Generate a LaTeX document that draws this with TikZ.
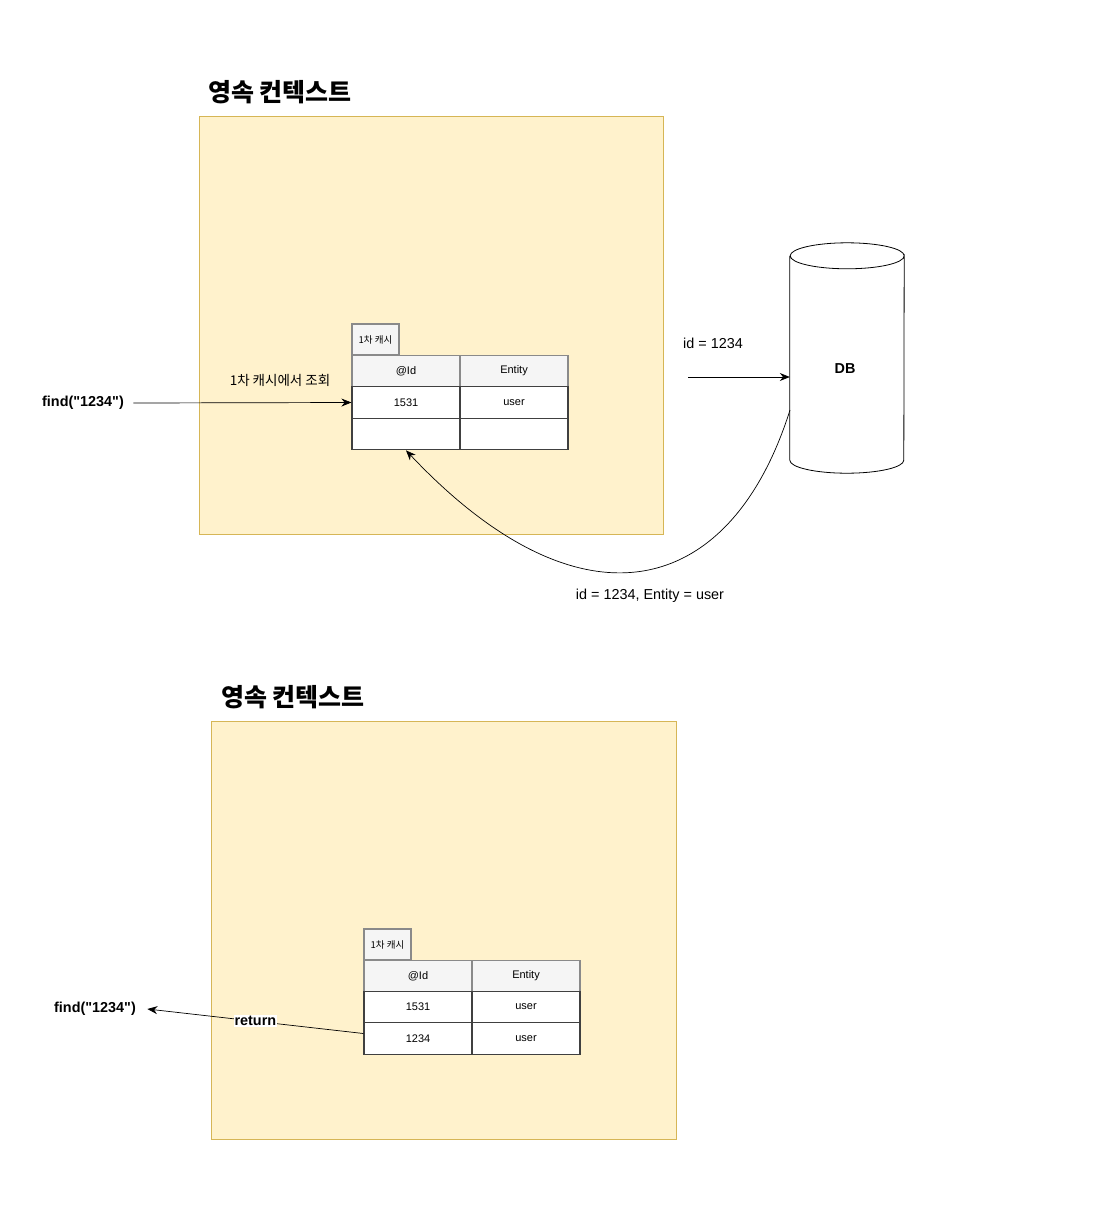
\documentclass[tikz,border=0pt]{standalone}
\usepackage{fontspec}
\setmainfont{Liberation Sans}
\newfontfamily\cjk{Noto Sans CJK KR}
\usetikzlibrary{arrows.meta}

\definecolor{ctxfill}{HTML}{FFF2CC}
\definecolor{ctxline}{HTML}{D6B656}
\definecolor{headfill}{HTML}{F5F5F5}
\definecolor{headline}{HTML}{8A8A8A}

\tikzset{
  ctx/.style={draw=ctxline, fill=ctxfill, line width=0.8pt},
  title/.style={font=\cjk\bfseries\fontsize{25}{29}\selectfont},
  tab/.style={draw=headline, fill=headfill, line width=1.2pt, minimum width=47pt, minimum height=31pt, inner sep=0pt, font=\cjk\fontsize{9.5}{11}\selectfont},
  head/.style={draw=headline, fill=headfill, line width=1.2pt, minimum width=108pt, minimum height=31.5pt, inner sep=0pt, font=\fontsize{11}{13}\selectfont},
  cell/.style={draw=black!75, fill=white, line width=1.2pt, minimum width=108pt, minimum height=31.5pt, inner sep=0pt, font=\fontsize{11}{13}\selectfont},
  lbl/.style={font=\fontsize{14.4}{17}\selectfont},
  blbl/.style={font=\bfseries\fontsize{14.4}{17}\selectfont},
  arr/.style={-{Stealth[length=10pt,width=8pt]}, line width=0.7pt},
}

\begin{document}
\begin{tikzpicture}[x=1pt, y=-1pt]
    \useasboundingbox (0, 0) rectangle (1094, 1210);

    % first lookup
    \node [title] (title1) at (280, 92) {영속 컨텍스트};
    \draw [ctx] (199, 116) rectangle (663, 534);

    \node [tab] (tab1) at (375.5, 339.5) {1차 캐시};
    \node [head] (hid1) at (406, 371) {@Id};
    \node [head] (hent1) at (514, 371) {Entity};
    \node [cell] (ida1) at (406, 402.5) {1531};
    \node [cell] (enta1) at (514, 402.5) {user};
    \node [cell] (idb1) at (406, 434) {};
    \node [cell] (entb1) at (514, 434) {};

    \node [blbl] (find1) at (83, 403) {find(\textquotedbl 1234\textquotedbl)};
    \node [lbl, font=\cjk\fontsize{13.5}{15}\selectfont] (look) at (280, 380) {1차 캐시에서 조회};
    \draw [arr] ([xshift=6pt]find1.east) -- (ida1.west);

    % db
    \node (db) at (847, 358) [minimum width=114pt, minimum height=230pt] {};
    \draw [line width=0.8pt, fill=white] ([yshift=-13pt]db.north west)
        -- ([yshift=13pt]db.south west)
        arc [start angle=180, end angle=0, x radius=57, y radius=13]
        -- ([yshift=-13pt]db.north east)
        arc [start angle=0, end angle=180, x radius=57, y radius=13]
        arc [start angle=180, end angle=360, x radius=57, y radius=13];
    \node [blbl] (dbtxt) at (845, 369) {DB};

    \node [lbl] (q) at (713, 343) {id = 1234};
    \coordinate (qstart) at (688, 377);
    \draw [arr] (qstart) -- (qstart -| db.west);

    \coordinate (back) at (790, 410);
    \draw [arr] (back) .. controls (730, 600) and (580, 635) .. (idb1.south);
    \node [lbl] (res) at (650, 596) {id = 1234, Entity = user};

    % second lookup
    \node [title] (title2) at (293, 697) {영속 컨텍스트};
    \draw [ctx] (211, 721) rectangle (676, 1139);

    \node [tab] (tab2) at (387.5, 944.5) {1차 캐시};
    \node [head] (hid2) at (418, 976) {@Id};
    \node [head] (hent2) at (526, 976) {Entity};
    \node [cell] (ida2) at (418, 1007) {1531};
    \node [cell] (enta2) at (526, 1007) {user};
    \node [cell] (idb2) at (418, 1038.5) {1234};
    \node [cell] (entb2) at (526, 1038.5) {user};

    \node [blbl] (find2) at (95, 1009) {find(\textquotedbl 1234\textquotedbl)};
    \draw [arr] ([yshift=5pt]idb2.west) -- node [blbl, fill=white, inner sep=1pt] {return} ([xshift=8pt]find2.east);
  \end{tikzpicture}
\end{document}
